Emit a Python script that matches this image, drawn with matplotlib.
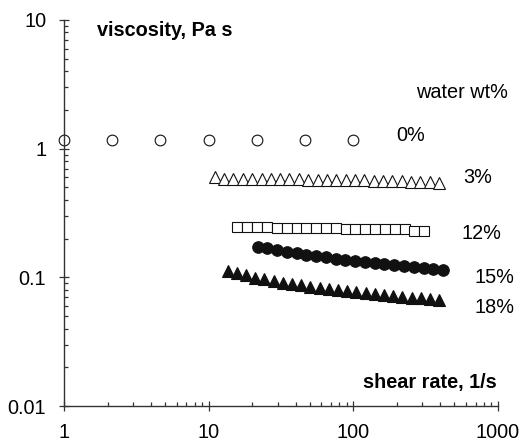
import numpy as np
import matplotlib.pyplot as plt
from matplotlib.ticker import LogLocator, NullFormatter, FixedFormatter, FixedLocator

plt.rcParams['font.family'] = ['Liberation Sans', 'DejaVu Sans']

# Datos: viscosidad (Pa s) vs velocidad de corte (1/s) para cada % de agua

rate_0 = [1.0, 2.15, 4.64, 10.0, 21.5, 46.4, 100.0]
visc_0 = [1.17, 1.17, 1.17, 1.17, 1.17, 1.17, 1.17]

rate_3 = [11.0, 12.8, 14.8, 17.2, 19.9, 23.2, 26.9, 31.2, 36.2, 42.0, 48.8, 56.6,
          65.7, 76.2, 88.5, 103, 119, 138, 161, 186, 216, 251, 291, 338, 392]
visc_3 = [0.60, 0.585, 0.585, 0.585, 0.585, 0.58, 0.58, 0.58, 0.58, 0.58, 0.575,
          0.575, 0.57, 0.57, 0.57, 0.57, 0.57, 0.565, 0.565, 0.565, 0.565, 0.55,
          0.55, 0.55, 0.54]

rate_12 = [15.8, 18.5, 21.7, 25.3, 29.6, 34.6, 40.5, 47.3, 55.4, 64.7, 75.7, 88.5,
           103, 121, 142, 165, 193, 226, 264, 309]
visc_12 = [0.248, 0.248, 0.248, 0.248, 0.243, 0.243, 0.243, 0.243, 0.243, 0.243,
           0.243, 0.238, 0.238, 0.238, 0.238, 0.238, 0.238, 0.238, 0.228, 0.228]

rate_15 = [21.8, 25.4, 29.7, 34.7, 40.6, 47.4, 55.3, 64.7, 75.5, 88.2, 103, 120,
           141, 164, 192, 224, 262, 306, 357, 418]
visc_15 = [0.173, 0.168, 0.163, 0.158, 0.154, 0.149, 0.147, 0.143, 0.140, 0.137,
           0.134, 0.132, 0.129, 0.127, 0.125, 0.123, 0.121, 0.119, 0.117, 0.114]

rate_18 = [13.5, 15.7, 18.1, 21.0, 24.3, 28.1, 32.6, 37.7, 43.6, 50.5, 58.5, 67.7,
           78.3, 90.7, 105, 122, 141, 163, 189, 218, 253, 293, 339, 392]
visc_18 = [0.112, 0.109, 0.104, 0.0995, 0.0966, 0.0938, 0.0909, 0.0889, 0.0868,
           0.0847, 0.0832, 0.0817, 0.0798, 0.0784, 0.0770, 0.0756, 0.0743, 0.0730,
           0.0717, 0.0708, 0.0696, 0.0688, 0.0676, 0.0667]

xticks = [1, 10, 100, 1000]
xlabels = ['1', '10', '100', '1000']
yticks = [0.01, 0.1, 1, 10]
ylabels = ['0.01', '0.1', '1', '10']

fig = plt.figure(figsize=(5.27, 4.42), dpi=100)
ax = fig.add_axes([0.1214, 0.0814, 0.8236, 0.8734])

lw = 0.8
ax.plot(rate_0, visc_0, 'o', ms=7.7, mfc='white', mec='#111111', mew=lw, clip_on=False)
ax.plot(rate_3, visc_3, '^', ms=8.8, mfc='white', mec='#111111', mew=lw, clip_on=False)
ax.plot(rate_12, visc_12, 's', ms=7.4, mfc='white', mec='#111111', mew=lw, clip_on=False)
ax.plot(rate_15, visc_15, 'o', ms=8.3, mfc='#111111', mec='#111111', mew=lw, clip_on=False)
ax.plot(rate_18, visc_18, '^', ms=9.0, mfc='#111111', mec='#111111', mew=lw, clip_on=False)

ax.set_xscale('log')
ax.set_yscale('log')
ax.set_xlim(1, 1000)
ax.set_ylim(0.01, 10)

# Ejes estilo Excel: sin marco arriba/derecha
ax.spines['top'].set_visible(False)
ax.spines['right'].set_visible(False)
for s in ('left', 'bottom'):
    ax.spines[s].set_color('#333333')
    ax.spines[s].set_linewidth(1.0)

ax.xaxis.set_major_locator(FixedLocator(xticks))
ax.xaxis.set_major_formatter(FixedFormatter(xlabels))
ax.yaxis.set_major_locator(FixedLocator(yticks))
ax.yaxis.set_major_formatter(FixedFormatter(ylabels))
ax.xaxis.set_minor_locator(LogLocator(base=10, subs=np.arange(2, 10)))
ax.yaxis.set_minor_locator(LogLocator(base=10, subs=np.arange(2, 10)))
ax.xaxis.set_minor_formatter(NullFormatter())
ax.yaxis.set_minor_formatter(NullFormatter())

ax.tick_params(which='major', direction='inout', length=6.5, width=0.9,
               color='#333333', labelsize=14.3)
ax.tick_params(which='minor', direction='in', length=3.0, width=0.9, color='#333333')
ax.tick_params(axis='x', which='major', pad=9)
ax.tick_params(axis='y', which='major', pad=9.5)

ax.text(0.075, 0.974, 'viscosity, Pa s', transform=ax.transAxes, fontsize=14.3,
        fontweight='bold', ha='left', va='center')
ax.text(0.998, 0.060, 'shear rate, 1/s', transform=ax.transAxes, fontsize=14.3,
        fontweight='bold', ha='right', va='center')

labels = [('water wt%', 0.811, 0.813), ('0%', 0.765, 0.702), ('3%', 0.919, 0.593),
          ('12%', 0.917, 0.448), ('15%', 0.945, 0.332), ('18%', 0.945, 0.256)]
for txt, xx, yy in labels:
    ax.text(xx, yy, txt, transform=ax.transAxes, fontsize=14.3, ha='left', va='center')

plt.savefig('out.png', dpi=100)
plt.close()
